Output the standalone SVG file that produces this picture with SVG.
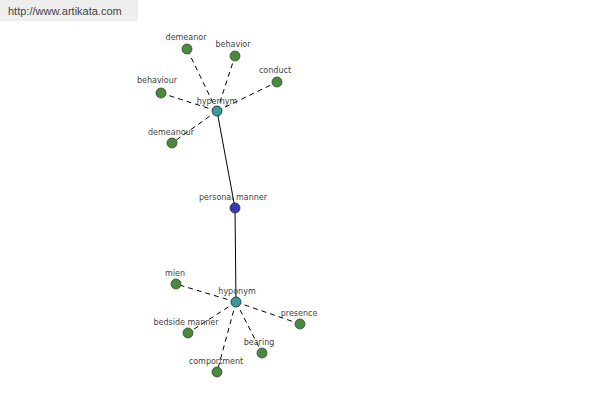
<svg xmlns="http://www.w3.org/2000/svg" width="600" height="400" viewBox="0 0 600 400">
<style>
text{font-family:"DejaVu Sans","Liberation Sans",sans-serif;font-size:8px;fill:#444;text-anchor:middle}
.leaf{fill:#4b8a3e;stroke:#2e4a2a;stroke-width:0.8}
.hub{fill:#3a9a98;stroke:#224;stroke-width:0.8}
.root{fill:#3a3ab4;stroke:#223;stroke-width:0.8}
.d{stroke:#000;stroke-width:1;stroke-dasharray:5,4;fill:none}
.s{stroke:#000;stroke-width:1;fill:none}
</style>
<rect width="600" height="400" fill="#fff"/>
<g id="watermark">
<rect x="0" y="0" width="138" height="21" fill="#eeeeee"/>
<text x="8" y="15" style="font-family:'Liberation Sans',Arial,sans-serif;font-size:11px;fill:#444;text-anchor:start">http://www.artikata.com</text>
</g>
<g id="connectors">
<line class="s" x1="217" y1="111" x2="235" y2="208"/>
<line class="s" x1="235" y1="208" x2="236" y2="302"/>
<line class="d" x1="217" y1="111" x2="187" y2="49"/>
<line class="d" x1="217" y1="111" x2="235" y2="56"/>
<line class="d" x1="217" y1="111" x2="277" y2="82"/>
<line class="d" x1="217" y1="111" x2="161" y2="93"/>
<line class="d" x1="217" y1="111" x2="172" y2="143"/>
<line class="d" x1="236" y1="302" x2="176" y2="284"/>
<line class="d" x1="236" y1="302" x2="188" y2="333"/>
<line class="d" x1="236" y1="302" x2="300" y2="324"/>
<line class="d" x1="236" y1="302" x2="262" y2="353"/>
<line class="d" x1="236" y1="302" x2="217" y2="372"/>
</g>
<g id="n-demeanor"><circle class="leaf" cx="187" cy="49" r="5"/><text x="186" y="40">demeanor</text></g>
<g id="n-behavior"><circle class="leaf" cx="235" cy="56" r="5"/><text x="233" y="47">behavior</text></g>
<g id="n-conduct"><circle class="leaf" cx="277" cy="82" r="5"/><text x="275" y="73">conduct</text></g>
<g id="n-behaviour"><circle class="leaf" cx="161" cy="93" r="5"/><text x="157" y="83">behaviour</text></g>
<g id="n-demeanour"><circle class="leaf" cx="172" cy="143" r="5"/><text x="171" y="135">demeanour</text></g>
<g id="n-hypernym"><circle class="hub" cx="217" cy="111" r="5"/><text x="217" y="104">hypernym</text></g>
<g id="n-personal-manner"><circle class="root" cx="235" cy="208" r="5"/><text x="233" y="200">personal manner</text></g>
<g id="n-hyponym"><circle class="hub" cx="236" cy="302" r="5"/><text x="237" y="294">hyponym</text></g>
<g id="n-mien"><circle class="leaf" cx="176" cy="284" r="5"/><text x="175" y="276">mien</text></g>
<g id="n-bedside-manner"><circle class="leaf" cx="188" cy="333" r="5"/><text x="186" y="325">bedside manner</text></g>
<g id="n-presence"><circle class="leaf" cx="300" cy="324" r="5"/><text x="299" y="316">presence</text></g>
<g id="n-bearing"><circle class="leaf" cx="262" cy="353" r="5"/><text x="259" y="345">bearing</text></g>
<g id="n-comportment"><circle class="leaf" cx="217" cy="372" r="5"/><text x="216" y="364">comportment</text></g>
</svg>
